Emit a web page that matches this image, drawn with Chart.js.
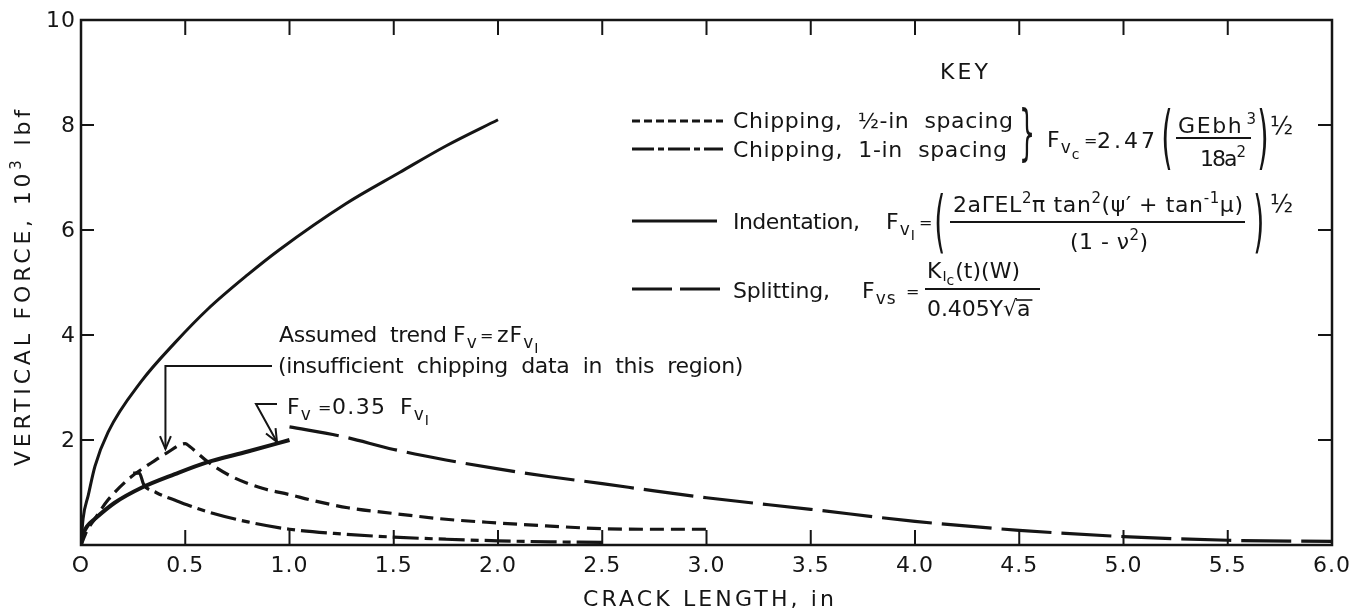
<!DOCTYPE html>
<html>
<head>
<meta charset="utf-8">
<script src="https://cdn.jsdelivr.net/npm/chart.js@4.4.0/dist/chart.umd.min.js"></script>
<style>
  html, body { margin: 0; padding: 0; background: #fff; }
  #c { display: block; }
</style>
</head>
<body>
<canvas id="c" width="1365" height="611" style="width:1365px;height:611px"></canvas>
<script>
// Axis ticks
const xTickValues = [0, 0.5, 1, 1.5, 2, 2.5, 3, 3.5, 4, 4.5, 5, 5.5, 6];
const xTickLabels = ['O', '0.5', '1.0', '1.5', '2.0', '2.5', '3.0', '3.5', '4.0', '4.5', '5.0', '5.5', '6.0'];
const yTickValues = [2, 4, 6, 8, 10];
const yTickLabels = ['2', '4', '6', '8', '10'];

// Indentation, F_vI (crack length in, force 10^3 lbf)
const indentX = [0, 0.01, 0.035, 0.067, 0.13, 0.29, 0.45, 0.61, 0.8, 0.95, 1.27, 1.53, 1.75, 2.0];
const indentY = [0, 0.5, 0.95, 1.5, 2.15, 3.12, 3.85, 4.5, 5.15, 5.62, 6.5, 7.1, 7.6, 8.1];

// F_v = 0.35 F_vI
const scaledX = [0, 0.01, 0.03, 0.067, 0.16, 0.29, 0.45, 0.6, 0.8, 1.0];
const scaledY = [0, 0.2, 0.36, 0.5, 0.8, 1.09, 1.35, 1.57, 1.78, 2.0];

// Chipping, 1/2-in spacing
const halfX = [0, 0.03, 0.067, 0.13, 0.235, 0.32, 0.41, 0.5, 0.52, 0.61, 0.72, 0.87, 1.0, 1.11, 1.28, 1.5, 1.75, 2.0, 2.25, 2.5, 2.75, 3.0];
const halfY = [0, 0.28, 0.5, 0.86, 1.28, 1.52, 1.75, 1.93, 1.88, 1.58, 1.31, 1.08, 0.96, 0.85, 0.71, 0.6, 0.49, 0.42, 0.36, 0.31, 0.3, 0.3];

// Chipping, 1-in spacing
const oneX = [0.25, 0.28, 0.30, 0.36, 0.46, 0.6, 0.8, 1.0, 1.25, 1.5, 1.75, 2.0, 2.25, 2.5];
const oneY = [1.37, 1.37, 1.16, 1.0, 0.84, 0.64, 0.44, 0.3, 0.21, 0.15, 0.11, 0.08, 0.06, 0.05];

// Splitting, F_vs
const splitX = [1.0, 1.25, 1.5, 1.75, 2.0, 2.25, 2.5, 2.75, 3.0, 3.5, 4.0, 4.5, 5.0, 5.5, 6.0];
const splitY = [2.25, 2.07, 1.82, 1.62, 1.45, 1.3, 1.17, 1.03, 0.9, 0.68, 0.45, 0.28, 0.16, 0.09, 0.07];

const INK = '#151515';
const FONT = '"DejaVu Sans", "Liberation Sans", sans-serif';

const pts = (xs, ys) => xs.map((v, i) => ({ x: v, y: ys[i] }));

function curve(label, xs, ys, width, dash) {
  return {
    label, data: pts(xs, ys),
    borderColor: INK, borderWidth: width, borderDash: dash,
    borderCapStyle: 'butt', borderJoinStyle: 'round',
    fill: false, pointRadius: 0, cubicInterpolationMode: 'monotone'
  };
}

// ---- text helpers ----
function setFont(ctx, size) { ctx.font = size + 'px ' + FONT; }

// Draw a sequence of [text, scale, dy, gapBefore] pieces from x on baseline y.
// When a width is given the letters are spread to fill it.
function runs(ctx, x, y, parts, size, width) {
  ctx.textAlign = 'left';
  ctx.textBaseline = 'alphabetic';
  ctx.letterSpacing = '0px';
  let total = 0, chars = 0;
  parts.forEach(p => {
    setFont(ctx, Math.round(size * (p[1] || 1)));
    total += ctx.measureText(p[0]).width + (p[3] || 0);
    chars += [...p[0]].length;
  });
  let ls = 0;
  if (width && chars > 1) ls = (width - total) / (chars - 1);
  let cx = x;
  parts.forEach(p => {
    setFont(ctx, Math.round(size * (p[1] || 1)));
    ctx.letterSpacing = ls + 'px';
    cx += (p[3] || 0);
    ctx.fillText(p[0], cx, y + (p[2] || 0));
    cx += ctx.measureText(p[0]).width;
  });
  ctx.letterSpacing = '0px';
  return cx;
}

// Tall bracket glyph stretched between yTop and yBot, squeezed horizontally.
function tallGlyph(ctx, ch, x, yTop, yBot, sx) {
  setFont(ctx, 100);
  ctx.letterSpacing = '0px';
  const m = ctx.measureText(ch);
  const h = m.actualBoundingBoxAscent + m.actualBoundingBoxDescent;
  const k = (yBot - yTop) / h;
  ctx.save();
  ctx.translate(x, yBot - m.actualBoundingBoxDescent * k);
  ctx.scale(k * sx, k);
  ctx.textAlign = 'left';
  ctx.textBaseline = 'alphabetic';
  ctx.fillText(ch, -m.actualBoundingBoxLeft, 0);
  ctx.restore();
}

function seg(ctx, pts2, width, dash) {
  ctx.save();
  ctx.lineWidth = width;
  ctx.setLineDash(dash || []);
  ctx.beginPath();
  pts2.forEach((p, i) => i ? ctx.lineTo(p[0], p[1]) : ctx.moveTo(p[0], p[1]));
  ctx.stroke();
  ctx.restore();
}

function arrowHead(ctx, x0, y0, x1, y1, len, spread) {
  const ang = Math.atan2(y1 - y0, x1 - x0);
  const a1 = ang + Math.PI - spread, a2 = ang + Math.PI + spread;
  seg(ctx, [[x1 + len * Math.cos(a1), y1 + len * Math.sin(a1)], [x1, y1],
            [x1 + len * Math.cos(a2), y1 + len * Math.sin(a2)]], 2);
}

const plate = {
  id: 'plate',
  afterDraw(chart) {
    const { ctx, chartArea: a, scales } = chart;
    const sx = scales.x, sy = scales.y;
    ctx.save();
    ctx.strokeStyle = INK;
    ctx.fillStyle = INK;
    ctx.lineCap = 'butt';

    // frame
    ctx.lineWidth = 2.5;
    ctx.strokeRect(a.left, a.top, a.right - a.left, a.bottom - a.top);

    // inward ticks on all four sides
    xTickValues.forEach(v => {
      if (v <= sx.min || v >= sx.max) return;
      const px = sx.getPixelForValue(v);
      seg(ctx, [[px, a.bottom], [px, a.bottom - 15]], 2);
      seg(ctx, [[px, a.top], [px, a.top + 15]], 2);
    });
    yTickValues.forEach(v => {
      if (v >= sy.max) return;
      const py = sy.getPixelForValue(v);
      seg(ctx, [[a.left, py], [a.left + 13, py]], 2);
      seg(ctx, [[a.right, py], [a.right - 14, py]], 2);
    });

    // tick labels
    setFont(ctx, 22);
    ctx.letterSpacing = '1px';
    ctx.textBaseline = 'middle';
    ctx.textAlign = 'center';
    xTickValues.forEach((v, i) => ctx.fillText(xTickLabels[i], sx.getPixelForValue(v), a.bottom + 21));
    ctx.textAlign = 'right';
    yTickValues.forEach((v, i) => ctx.fillText(yTickLabels[i], a.left - 5, sy.getPixelForValue(v) + 1));
    ctx.letterSpacing = '0px';

    // axis titles
    const xw = 251;
    runs(ctx, (a.left + a.right) / 2 - xw / 2 + 2, a.bottom + 61, [['CRACK LENGTH, in']], 22, xw);
    ctx.save();
    ctx.translate(30, 288);
    ctx.rotate(-Math.PI / 2);
    const yw = 356;
    runs(ctx, -yw / 2, 0, [['VERTICAL FORCE, 10'], ['3', 0.7, -9], [' lbf']], 22, yw);
    ctx.restore();

    // ---- key ----
    runs(ctx, 940, 79, [['KEY']], 22, 48);

    const sampleL = 632, sampleR = 723;
    seg(ctx, [[sampleL, 121], [sampleR, 121]], 3, [8, 4]);
    seg(ctx, [[sampleL, 149], [sampleR, 149]], 3, [22, 4, 6, 4]);
    seg(ctx, [[sampleL, 221], [717, 221]], 3);
    seg(ctx, [[sampleL, 289], [sampleR, 289]], 3, [40, 8]);

    runs(ctx, 733, 128, [['Chipping,  ½-in  spacing']], 22, 280);
    runs(ctx, 733, 157, [['Chipping,  1-in  spacing']], 22, 274);
    tallGlyph(ctx, '}', 1016, 107, 163, 0.42);

    // chipping formula
    runs(ctx, 1047, 147, [['F'], ['v', 0.78, 6, 1], ['c', 0.65, 12, 1]], 22);
    runs(ctx, 1084, 146, [['=']], 16);
    runs(ctx, 1097, 148, [['2.47']], 22, 58);
    tallGlyph(ctx, '(', 1159, 108, 170, 0.42);
    runs(ctx, 1178, 133, [['GEbh'], ['3', 0.7, -9, 3]], 22, 78);
    seg(ctx, [[1176, 138], [1251, 138]], 2);
    runs(ctx, 1200, 166, [['18a'], ['2', 0.7, -9, 1]], 22, 46);
    tallGlyph(ctx, ')', 1255, 108, 170, 0.42);
    runs(ctx, 1270, 134, [['½']], 24);

    // indentation
    runs(ctx, 733, 229, [['Indentation,']], 22, 127);
    runs(ctx, 886, 229, [['F'], ['v', 0.78, 6, 1], ['I', 0.65, 11, 1]], 22);
    runs(ctx, 919, 228, [['=']], 16);
    tallGlyph(ctx, '(', 932, 194, 254, 0.42);
    runs(ctx, 953, 212, [['2aΓEL'], ['2', 0.7, -9], ['π tan'], ['2', 0.7, -9],
                         ['(ψ′ + tan'], ['-1', 0.7, -9], ['μ)']], 22, 290);
    seg(ctx, [[950, 222], [1245, 222]], 2);
    runs(ctx, 1070, 249, [['(1 - ν'], ['2', 0.7, -9], [')']], 22, 78);
    tallGlyph(ctx, ')', 1251, 194, 254, 0.42);
    runs(ctx, 1270, 212, [['½']], 24);

    // splitting
    runs(ctx, 733, 298, [['Splitting,']], 22, 97);
    runs(ctx, 862, 298, [['F'], ['v', 0.78, 6, 1], ['s', 0.78, 6, 1]], 22);
    runs(ctx, 906, 297, [['=']], 16);
    runs(ctx, 927, 278, [['K'], ['I', 0.65, 3, 1], ['c', 0.65, 7], ['(t)(W)', 1, 0, 1]], 22);
    seg(ctx, [[925, 289], [1040, 289]], 2);
    const rootEnd = runs(ctx, 927, 316, [['0.405Y'], ['√']], 22, 90);
    const aEnd = runs(ctx, rootEnd, 316, [['a']], 22);
    seg(ctx, [[rootEnd - 1, 300], [aEnd + 2, 300]], 1.6);

    // ---- annotations ----
    runs(ctx, 279, 342, [['Assumed  trend']], 22, 168);
    runs(ctx, 453, 342, [['F'], ['v', 0.78, 6, 1]], 22);
    runs(ctx, 480, 341, [['=']], 16);
    runs(ctx, 497, 342, [['z'], ['F', 1, 0, 1], ['v', 0.78, 6, 1], ['I', 0.65, 11, 1]], 22);
    runs(ctx, 278, 373, [['(insufficient  chipping  data  in  this  region)']], 22, 465);

    runs(ctx, 287, 414, [['F'], ['v', 0.78, 6, 1]], 22);
    runs(ctx, 318, 413, [['=']], 16);
    runs(ctx, 332, 414, [['0.35']], 22, 53);
    runs(ctx, 400, 414, [['F'], ['v', 0.78, 6, 1], ['I', 0.65, 11, 1]], 22);

    // leader to the assumed-trend part of the 1/2-in curve
    const t1x = sx.getPixelForValue(0.405), t1y = sy.getPixelForValue(1.83);
    seg(ctx, [[272, 366], [t1x, 366], [t1x, t1y]], 2);
    arrowHead(ctx, t1x, 366, t1x, t1y, 14, 0.4);

    // leader to the 0.35 F_vI curve
    const t2x = sx.getPixelForValue(0.94), t2y = sy.getPixelForValue(1.96);
    seg(ctx, [[277, 404], [256, 404], [t2x, t2y]], 2);
    arrowHead(ctx, 256, 404, t2x, t2y, 14, 0.4);

    ctx.restore();
  }
};

new Chart(document.getElementById('c'), {
  type: 'line',
  data: {
    datasets: [
      curve('Indentation', indentX, indentY, 3, []),
      curve('0.35 F_vI', scaledX, scaledY, 4, []),
      curve('Chipping, 1/2-in spacing', halfX, halfY, 3.2, [14, 7]),
      curve('Chipping, 1-in spacing', oneX, oneY, 3.2, [26, 6, 8, 6]),
      curve('Splitting', splitX, splitY, 3.2, [50, 10])
    ]
  },
  options: {
    responsive: false,
    animation: false,
    devicePixelRatio: 1,
    layout: { padding: { left: 81, top: 20, right: 33, bottom: 66 } },
    plugins: { legend: { display: false }, tooltip: { enabled: false } },
    elements: { point: { radius: 0 } },
    scales: {
      x: { type: 'linear', min: 0, max: 6, display: false },
      y: { type: 'linear', min: 0, max: 10, display: false }
    }
  },
  plugins: [plate]
});
</script>
</body>
</html>
